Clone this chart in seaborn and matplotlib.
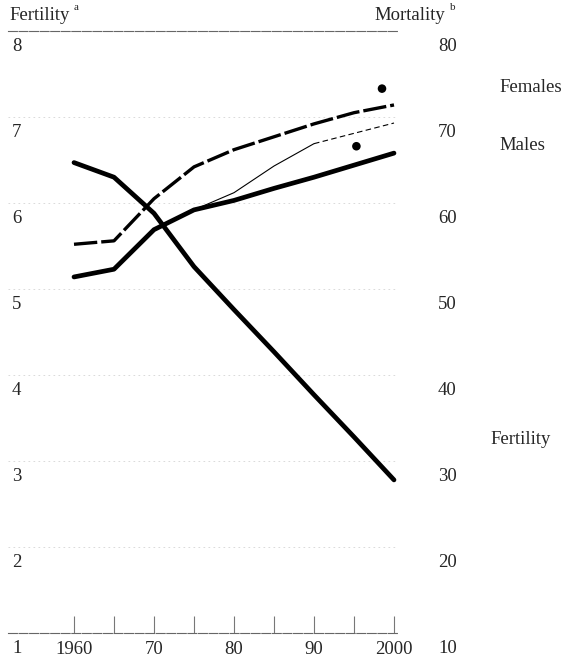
import matplotlib
matplotlib.use('Agg')
import matplotlib.pyplot as plt
import seaborn as sns
import pandas as pd

sns.set_theme(style='white')
plt.rcParams['font.family'] = ['Liberation Serif', 'DejaVu Serif']

# --- data ---
years = [1960, 1965, 1970, 1975, 1980, 1985, 1990, 1995, 2000]
fertility = [6.47, 6.30, 5.88, 5.26, 4.76, 4.27, 3.77, 3.28, 2.78]
females = [55.2, 55.6, 60.5, 64.2, 66.2, 67.7, 69.2, 70.5, 71.4]
males = [51.4, 52.3, 56.9, 59.2, 60.3, 61.7, 63.0, 64.4, 65.8]
alt_years = [1975, 1980, 1985, 1990]
alt_males = [59.2, 61.2, 64.3, 66.9]
alt_proj_years = [1990, 1995, 2000]
alt_proj = [66.9, 68.1, 69.3]
dot_years = [1998.5, 1995.3]
dot_values = [73.3, 66.6]

fert_ticks = [1, 2, 3, 4, 5, 6, 7, 8]
mort_ticks = [10, 20, 30, 40, 50, 60, 70, 80]
x_ticks = [1960, 1965, 1970, 1975, 1980, 1985, 1990, 1995, 2000]
x_labels = ['1960', '', '70', '', '80', '', '90', '', '2000']

df = pd.DataFrame({'year': years, 'fertility': fertility,
                   'females': females, 'males': males})

W, H = 562, 660
fig = plt.figure(figsize=(W / 100, H / 100), dpi=100)
ax = fig.add_axes([8 / W, (H - 633) / H, 390 / W, 602 / H])
ax2 = ax.twinx()
ax.set_xlim(1951.75, 2000.5)
ax.set_ylim(1, 8)
ax2.set_ylim(10, 80)

# faint grid (barely visible in the scan)
for v in fert_ticks[1:-1]:
    ax.axhline(v, color='#d4d4d4', lw=0.6, ls=(0, (2, 4)), zorder=0)

FS = 13.5
sns.lineplot(data=df, x='year', y='fertility', ax=ax, color='black', lw=3.4)
sns.lineplot(data=df, x='year', y='males', ax=ax2, color='black', lw=3.4)
sns.lineplot(data=df, x='year', y='females', ax=ax2, color='black', lw=2.4,
             linestyle=(0, (7, 1.2)))
sns.lineplot(x=alt_years, y=alt_males, ax=ax2, color='black', lw=0.8)
sns.lineplot(x=alt_proj_years, y=alt_proj, ax=ax2, color='black', lw=0.8,
             linestyle=(0, (5, 3)))
sns.scatterplot(x=dot_years, y=dot_values, ax=ax2, color='black', s=38,
                edgecolor='none')

for a in (ax, ax2):
    a.set_xlabel('')
    a.set_ylabel('')
    a.set_yticks([])
    for s in ('left', 'right'):
        a.spines[s].set_visible(False)
ax2.spines['top'].set_visible(False)
ax2.spines['bottom'].set_visible(False)
for s in ('top', 'bottom'):
    ax.spines[s].set_color('#666666')
    ax.spines[s].set_linewidth(0.8)
    ax.spines[s].set_linestyle((0, (8, 1.5)))

ax.set_xticks(x_ticks)
ax.set_xticklabels(x_labels)
ax.tick_params(axis='x', direction='in', length=12, width=0.8, color='#777777',
               pad=6, labelsize=FS, bottom=True)

# tick labels sitting just below each grid line
for v in fert_ticks:
    ax.annotate(str(v), xy=(4 / 390, v), xycoords=('axes fraction', 'data'),
                xytext=(0, -5), textcoords='offset points', ha='left', va='top',
                fontsize=FS, annotation_clip=False)
for m in mort_ticks:
    ax2.annotate(str(m), xy=((438 - 8) / 390, m), xycoords=('axes fraction', 'data'),
                 xytext=(0, -5), textcoords='offset points', ha='left', va='top',
                 fontsize=FS, annotation_clip=False)

# series labels on the right
ax.text((499 - 8) / 390, (633 - 88) / 602, 'Females', transform=ax.transAxes,
        fontsize=FS, va='center', ha='left', clip_on=False)
ax.text((499 - 8) / 390, (633 - 146) / 602, 'Males', transform=ax.transAxes,
        fontsize=FS, va='center', ha='left', clip_on=False)
ax.text((490 - 8) / 390, (633 - 440) / 602, 'Fertility', transform=ax.transAxes,
        fontsize=FS, va='center', ha='left', clip_on=False)

# axis headers
fig.text(9 / W, 1 - 16 / H, 'Fertility', fontsize=FS, va='center', ha='left')
fig.text(74 / W, 1 - 8 / H, 'a', fontsize=8, va='center', ha='left')
fig.text(445 / W, 1 - 16 / H, 'Mortality', fontsize=FS, va='center', ha='right')
fig.text(450 / W, 1 - 8 / H, 'b', fontsize=8, va='center', ha='left')

fig.savefig('out.png', dpi=100, facecolor='white')
plt.close(fig)
